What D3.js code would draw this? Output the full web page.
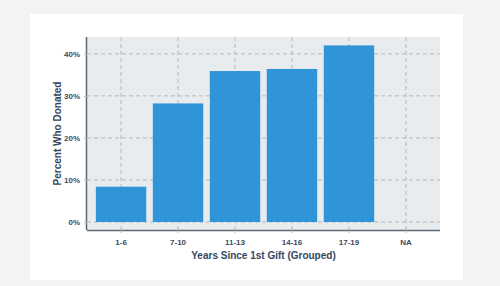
<!DOCTYPE html>
<html>
<head>
<meta charset="utf-8">
<script src="https://cdn.jsdelivr.net/npm/d3@7"></script>
<style>
  body { margin: 0; background: #f3f3f3; }
  .tick text { font-family: "Liberation Sans", Arial, sans-serif; font-weight: bold; font-size: 8px; fill: #3d4b5c; }
  .title { font-family: "Liberation Sans", Arial, sans-serif; font-weight: bold; font-size: 10px; fill: #34475e; }
</style>
</head>
<body>
<div id="chart"></div>
<script>
// data
var groups = ["1-6", "7-10", "11-13", "14-16", "17-19", "NA"];
var pctDonated = [0.084, 0.282, 0.359, 0.364, 0.420, null];
var yTicks = [0, 0.1, 0.2, 0.3, 0.4];

var svgWidth = 500, svgHeight = 286;

// plot panel box
var margin = {top: 37, right: 60, bottom: 56, left: 87};
var chartWidth = svgWidth - margin.left - margin.right;
var chartHeight = svgHeight - margin.top - margin.bottom;

var svg = d3.select("#chart")
  .append("svg")
  .attr("width", svgWidth)
  .attr("height", svgHeight);

// white card behind the chart
svg.append("rect")
  .attr("x", 30).attr("y", 14)
  .attr("width", 433).attr("height", 266)
  .attr("fill", "#ffffff");

var chartGroup = svg.append("g")
  .attr("transform", `translate(${margin.left}, ${margin.top})`);

var xScale = d3.scaleBand()
  .domain(groups)
  .range([0, chartWidth])
  .paddingInner(0.115)
  .paddingOuter(0.155);

var yScale = d3.scaleLinear()
  .domain([-0.019, 0.44])
  .range([chartHeight, 0]);

// panel background
chartGroup.append("rect")
  .attr("width", chartWidth)
  .attr("height", chartHeight)
  .attr("fill", "#e9ecee");

// dashed grid
chartGroup.selectAll(null)
  .data(yTicks)
  .enter()
  .append("line")
  .attr("x1", 0).attr("x2", chartWidth)
  .attr("y1", d => yScale(d)).attr("y2", d => yScale(d))
  .attr("stroke", "#b4b8bc")
  .attr("stroke-dasharray", "4,3");

chartGroup.selectAll(null)
  .data(groups)
  .enter()
  .append("line")
  .attr("x1", d => xScale(d) + xScale.bandwidth() / 2)
  .attr("x2", d => xScale(d) + xScale.bandwidth() / 2)
  .attr("y1", 0).attr("y2", chartHeight)
  .attr("stroke", "#b4b8bc")
  .attr("stroke-dasharray", "4,3");

// bars
chartGroup.selectAll(null)
  .data(groups.map((g, i) => ({g: g, v: pctDonated[i]})).filter(d => d.v != null))
  .enter()
  .append("rect")
  .attr("x", d => xScale(d.g))
  .attr("y", d => yScale(d.v))
  .attr("width", xScale.bandwidth())
  .attr("height", d => yScale(0) - yScale(d.v))
  .attr("fill", "#3094d9");

// axes
var xAxis = chartGroup.append("g")
  .attr("transform", `translate(0, ${chartHeight})`)
  .call(d3.axisBottom(xScale).tickSize(3).tickPadding(6));

var yAxis = chartGroup.append("g")
  .call(d3.axisLeft(yScale).tickValues(yTicks).tickFormat(d3.format(".0%")).tickSize(3).tickPadding(4));

xAxis.select(".domain").attr("d", `M0,0.5H${chartWidth}`).attr("stroke", "#5c6875").attr("stroke-width", 1.5);
yAxis.select(".domain").attr("d", `M-0.5,0V${chartHeight}`).attr("stroke", "#5c6875").attr("stroke-width", 1.5);
xAxis.selectAll(".tick line").attr("stroke", "#b4b8bc");
yAxis.selectAll(".tick line").attr("stroke", "#b4b8bc");

// axis titles
chartGroup.append("text")
  .attr("class", "title")
  .attr("x", chartWidth / 2)
  .attr("y", chartHeight + 29)
  .attr("text-anchor", "middle")
  .text("Years Since 1st Gift (Grouped)");

chartGroup.append("text")
  .attr("class", "title")
  .attr("transform", "rotate(-90)")
  .attr("x", -chartHeight / 2)
  .attr("y", -26)
  .attr("text-anchor", "middle")
  .text("Percent Who Donated");
</script>
</body>
</html>
